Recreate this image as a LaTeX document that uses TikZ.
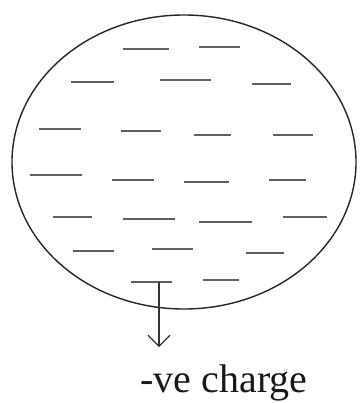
\documentclass[tikz,border=0pt]{standalone}
\usepackage{fontspec}
\setmainfont{Liberation Serif}
\usetikzlibrary{arrows.meta}
\begin{document}
\begin{tikzpicture}[x=1pt,y=-1pt,
  charge/.style={draw=black!62,line width=2.6pt},
  rim/.style={draw=black!85,line width=1.4pt},
  lbl/.style={font=\fontsize{40}{42}\selectfont,text=black!90,inner sep=0pt,anchor=base}]
\useasboundingbox (0,0) rectangle (360,403);
\fill[white] (0,0) rectangle (360,403);
\draw[rim] (184,162) ellipse [x radius=172, y radius=147];
% row 1
\draw[charge] (123,49) -- (169,49);
\draw[charge] (199,47) -- (240,47);
% row 2
\draw[charge] (71,82) -- (114,82);
\draw[charge] (160,80) -- (211,80);
\draw[charge] (252,84) -- (291,84);
% row 3
\draw[charge] (39,129) -- (81,129);
\draw[charge] (121,131) -- (161,131);
\draw[charge] (194,135) -- (231,135);
\draw[charge] (273,135) -- (313,135);
% row 4
\draw[charge] (30,175) -- (82,175);
\draw[charge] (112,180) -- (154,180);
\draw[charge] (184,182) -- (229,182);
\draw[charge] (269,180) -- (306,180);
% row 5
\draw[charge] (53,217) -- (92,217);
\draw[charge] (123,219) -- (175,219);
\draw[charge] (199,222) -- (252,222);
\draw[charge] (283,217) -- (327,217);
% row 6
\draw[charge] (73,251) -- (114,251);
\draw[charge] (152,249) -- (193,249);
\draw[charge] (246,253) -- (284,253);
% row 7
\draw[charge] (131,282) -- (172,282);
\coordinate (src) at (159,282);
\draw[charge] (203,280) -- (239,280);
% arrow and label
\coordinate (tip) at (159,347);
\draw[draw=black!80,line width=1.2pt,-{Straight Barb[length=11pt,width=22pt,line width=1.2pt]}] (src) -- (tip);
\node[lbl] (label) at (224,392) {-ve charge};
\end{tikzpicture}
\end{document}
